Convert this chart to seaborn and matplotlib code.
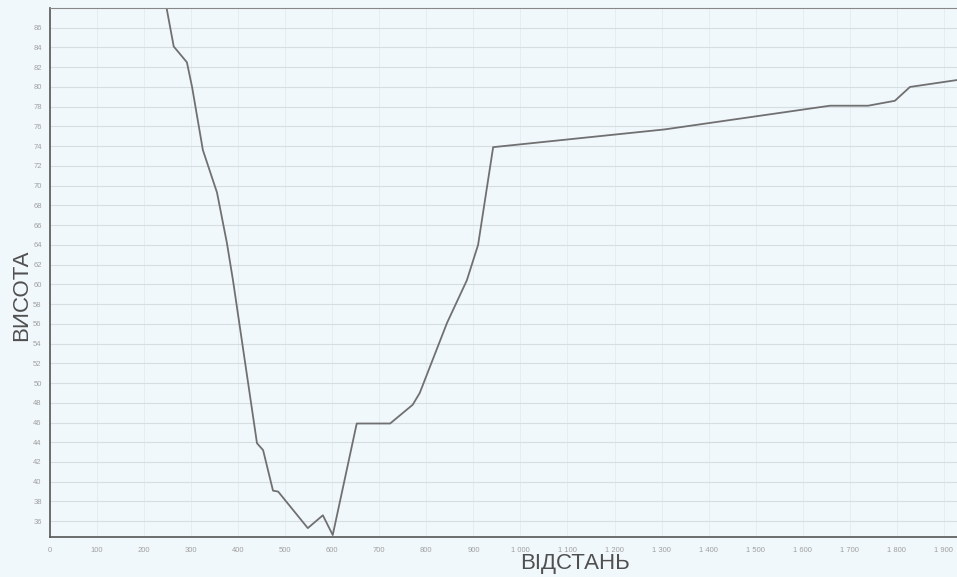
import matplotlib
matplotlib.use("Agg")
import matplotlib.pyplot as plt
import matplotlib.ticker as mticker
import seaborn as sbn

# profile: distance (m) and height
distance = [240, 263, 291, 302, 325, 355, 376, 389, 440, 453, 474, 485, 548, 580, 601,
            652, 723, 771, 786, 844, 886, 910, 942, 1307, 1658, 1739, 1796, 1828, 1928]
height = [90.0, 84.1, 82.5, 80.0, 73.6, 69.3, 64.2, 60.4, 43.9, 43.2, 39.1, 39.0, 35.3, 36.6, 34.6,
          45.9, 45.9, 47.8, 49.0, 56.1, 60.4, 64.0, 73.9, 75.7, 78.1, 78.1, 78.6, 80.0, 80.7]

y_ticks = list(range(36, 88, 2))
x_ticks = list(range(0, 2000, 100))

sbn.set_style("white")
plt.rcParams["font.family"] = ["Liberation Sans", "DejaVu Sans"]

bg = "#f1f8fb"
fig = plt.figure(figsize=(9.57, 5.77), dpi=100, facecolor=bg)
ax = fig.add_axes([50 / 957, 40 / 577, 907 / 957, 529 / 577])
ax.set_facecolor(bg)

sbn.lineplot(x=distance, y=height, ax=ax, color="#707070", linewidth=1.3,
             sort=False, estimator=None)

ax.set_xlim(0, 1928)
ax.set_ylim(34.4, 88)
ax.set_xticks(x_ticks)
ax.set_yticks(y_ticks)
ax.xaxis.set_major_formatter(mticker.FuncFormatter(lambda v, p: f"{int(v):,}".replace(",", " ")))
ax.tick_params(axis="y", labelsize=5.5, colors="#a0a0a0", length=0, pad=6)
ax.tick_params(axis="x", labelsize=5.5, colors="#a0a0a0", length=0, pad=7)
ax.grid(True, axis="y", color="#d6dee2", linewidth=0.8)
ax.grid(True, axis="x", color="#e4ecef", linewidth=0.6)

for s in ["left", "bottom"]:
    ax.spines[s].set_color("#555555")
    ax.spines[s].set_linewidth(1.2)
ax.spines["top"].set_color("#888888")
ax.spines["top"].set_linewidth(0.8)
ax.spines["right"].set_visible(False)

fig.text(22 / 957, 1 - 295 / 577, "ВИСОТА", rotation=90, ha="center", va="center",
         fontsize=16, color="#505050")
fig.text(575 / 957, 1 - 564 / 577, "ВІДСТАНЬ", ha="center", va="center",
         fontsize=16, color="#505050")

fig.savefig("out.png", dpi=100, facecolor=bg)
